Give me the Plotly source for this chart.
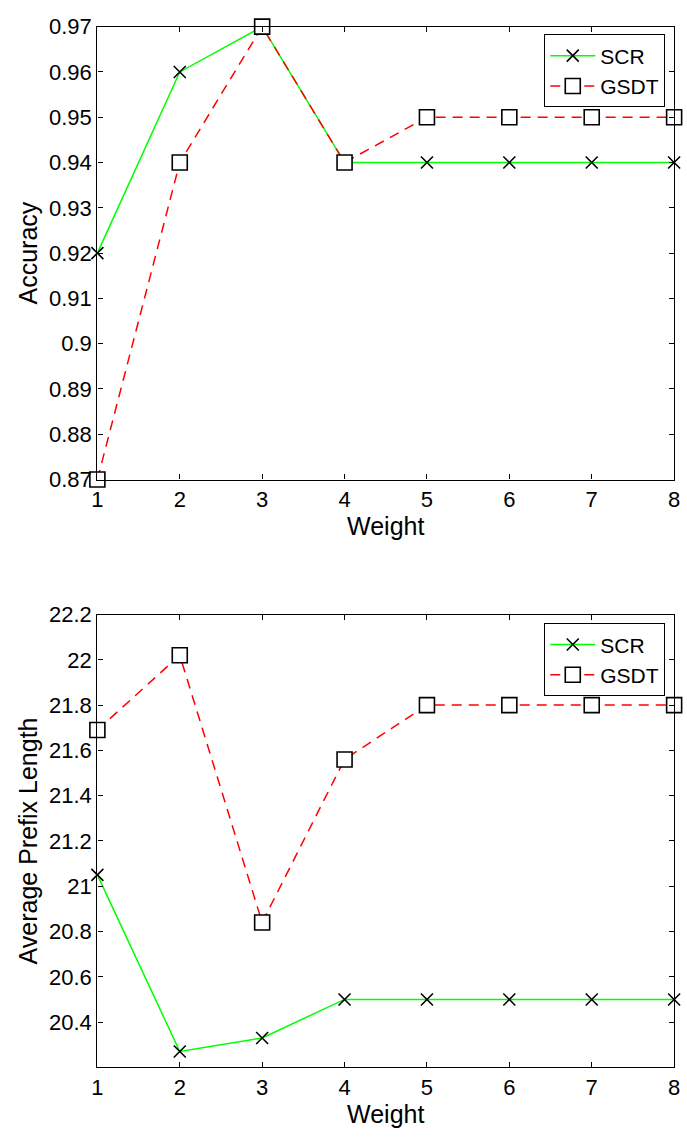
import plotly.graph_objects as go

weights = [1, 2, 3, 4, 5, 6, 7, 8]
acc_scr = [0.92, 0.96, 0.97, 0.94, 0.94, 0.94, 0.94, 0.94]
acc_gsdt = [0.87, 0.94, 0.97, 0.94, 0.95, 0.95, 0.95, 0.95]
apl_scr = [21.05, 20.27, 20.33, 20.5, 20.5, 20.5, 20.5, 20.5]
apl_gsdt = [21.69, 22.02, 20.84, 21.56, 21.8, 21.8, 21.8, 21.8]

acc_ticks = [0.87, 0.88, 0.89, 0.90, 0.91, 0.92, 0.93, 0.94, 0.95, 0.96, 0.97]
acc_ticktext = ["0.87", "0.88", "0.89", "0.9", "0.91", "0.92", "0.93", "0.94", "0.95", "0.96", "0.97"]
apl_ticks = [20.4, 20.6, 20.8, 21.0, 21.2, 21.4, 21.6, 21.8, 22.0, 22.2]
apl_ticktext = ["20.4", "20.6", "20.8", "21", "21.2", "21.4", "21.6", "21.8", "22", "22.2"]

FONT = "Liberation Sans, Arial, sans-serif"
GREEN = "#00ff00"
RED = "#ff0000"
TICK_SIZE = 22
TITLE_SIZE = 25

fig = go.Figure()

def add_pair(scr, gsdt, xa, ya, leg):
    fig.add_trace(go.Scatter(
        x=weights, y=scr, name="SCR", mode="lines+markers",
        line=dict(color=GREEN, width=1.5),
        marker=dict(symbol="x-thin", size=12, color="black",
                    line=dict(color="black", width=1.6)),
        xaxis=xa, yaxis=ya, legend=leg, cliponaxis=False))
    fig.add_trace(go.Scatter(
        x=weights, y=gsdt, name="GSDT", mode="lines+markers",
        line=dict(color=RED, width=1.5, dash="10px,7px"),
        marker=dict(symbol="square", size=15, color="white",
                    line=dict(color="black", width=1.6)),
        xaxis=xa, yaxis=ya, legend=leg, cliponaxis=False))

add_pair(acc_scr, acc_gsdt, "x", "y", "legend")
add_pair(apl_scr, apl_gsdt, "x2", "y2", "legend2")

xdom = [93 / 687, 680 / 687]
top_dom = [1 - 478 / 1142, 1 - 15 / 1142]
bot_dom = [1 - 1079 / 1142, 1 - 616 / 1142]

axis_common = dict(
    showline=True, linecolor="black", linewidth=1.3, mirror="ticks",
    ticks="inside", ticklen=5, tickcolor="black", tickwidth=1,
    showgrid=False, zeroline=False,
    tickfont=dict(family=FONT, size=TICK_SIZE, color="black"),
)

legend_common = dict(
    bgcolor="white", bordercolor="black", borderwidth=1,
    font=dict(family=FONT, size=21, color="black"),
    xanchor="right", yanchor="top", tracegroupgap=0,
    itemwidth=45,
)

xtitle = dict(text="Weight", font=dict(family=FONT, size=TITLE_SIZE), standoff=0)

fig.update_layout(
    width=687, height=1142,
    margin=dict(l=0, r=0, t=0, b=0),
    paper_bgcolor="white", plot_bgcolor="white",
    font=dict(family=FONT, color="black"),
    xaxis=dict(domain=xdom, anchor="y", range=[1, 8], tickvals=weights,
               title=xtitle, **axis_common),
    yaxis=dict(domain=top_dom, anchor="x", range=[0.87, 0.97],
               tickvals=acc_ticks, ticktext=acc_ticktext,
               title=dict(text="Accuracy", font=dict(family=FONT, size=TITLE_SIZE), standoff=4),
               **axis_common),
    xaxis2=dict(domain=xdom, anchor="y2", range=[1, 8], tickvals=weights,
                title=xtitle, **axis_common),
    yaxis2=dict(domain=bot_dom, anchor="x2", range=[20.2, 22.2],
                tickvals=apl_ticks, ticktext=apl_ticktext,
                title=dict(text="Average Prefix Length", font=dict(family=FONT, size=TITLE_SIZE), standoff=4),
                **axis_common),
    legend=dict(x=671 / 687, y=1 - 23 / 1142, **legend_common),
    legend2=dict(x=671 / 687, y=1 - 625 / 1142, **legend_common),
)

fig.write_html("out.html", post_script="document.body.style.margin='0';")
